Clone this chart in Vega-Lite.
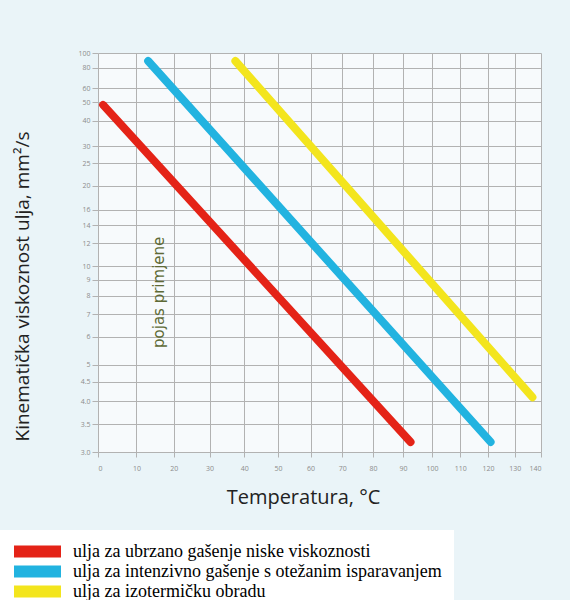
{
  "$schema": "https://vega.github.io/schema/vega-lite/v6.json",
  "width": 443,
  "height": 399,
  "autosize": {"type": "none"},
  "padding": {"left": 98, "top": 53, "right": 29, "bottom": 148},
  "background": "#eaf4f8",
  "config": {
    "view": {"fill": "#f7fafc", "stroke": null},
    "axis": {
      "gridColor": "#b2b2b2",
      "gridWidth": 1,
      "tickColor": "#b2b2b2",
      "domain": false,
      "labelOverlap": false,
      "tickCount": 60,
      "labelFont": "Open Sans",
      "labelFontSize": 7,
      "labelColor": "#8c8c8c",
      "titleFont": "Open Sans",
      "titleFontWeight": "normal",
      "titleColor": "#222222"
    }
  },
  "layer": [
    {
      "data": {
        "values": [
          {"oil": "ulja za ubrzano gašenje niske viskoznosti", "temp": 1.3, "visc": 48.5},
          {"oil": "ulja za ubrzano gašenje niske viskoznosti", "temp": 92.6, "visc": 3.17},
          {"oil": "ulja za intenzivno gašenje s otežanim isparavanjem", "temp": 13.1, "visc": 88.5},
          {"oil": "ulja za intenzivno gašenje s otežanim isparavanjem", "temp": 121, "visc": 3.17},
          {"oil": "ulja za izotermičku obradu", "temp": 37.4, "visc": 88.5},
          {"oil": "ulja za izotermičku obradu", "temp": 136.7, "visc": 4.1}
        ]
      },
      "mark": {"type": "line", "strokeWidth": 8, "strokeCap": "round"},
      "encoding": {
        "x": {
          "field": "temp",
          "type": "quantitative",
          "scale": {"type": "symlog", "constant": 273, "domain": [0, 140], "nice": false},
          "axis": {
            "values": [0, 10, 20, 30, 40, 50, 60, 70, 80, 90, 100, 110, 120, 130, 140],
            "title": "Temperatura, °C",
            "titleFontSize": 20,
            "tickSize": 5,
            "labelPadding": 7,
            "titleX": 205,
            "titleY": 45,
            "titleAlign": "center",
            "titleBaseline": "middle"
          }
        },
        "y": {
          "field": "visc",
          "type": "quantitative",
          "scale": {"type": "pow", "exponent": -0.3, "domain": [3, 100], "nice": false, "zero": false},
          "axis": {
            "values": [3, 3.5, 4, 4.5, 5, 6, 7, 8, 9, 10, 12, 14, 16, 20, 25, 30, 40, 50, 60, 80, 100],
            "labelExpr": "datum.value == 4 ? '4.0' : datum.value == 3 ? '3.0' : '' + datum.value",
            "title": "Kinematička viskoznost ulja, mm²/s",
            "titleFontSize": 19,
            "tickSize": 6,
            "labelPadding": 2,
            "titleAngle": 270,
            "titleX": -76,
            "titleY": 233,
            "titleAlign": "center",
            "titleBaseline": "middle"
          }
        },
        "color": {
          "field": "oil",
          "type": "nominal",
          "scale": {
            "domain": [
              "ulja za ubrzano gašenje niske viskoznosti",
              "ulja za intenzivno gašenje s otežanim isparavanjem",
              "ulja za izotermičku obradu"
            ],
            "range": ["#e42317", "#22b3e0", "#f3e51d"]
          },
          "legend": {
            "title": null,
            "orient": "none",
            "legendX": -102,
            "legendY": 477,
            "padding": 12,
            "fillColor": "#ffffff",
            "strokeColor": null,
            "symbolType": "stroke",
            "symbolSize": 2209,
            "symbolStrokeWidth": 12,
            "symbolOpacity": 1,
            "clipHeight": 19,
            "labelFont": "Liberation Serif",
            "labelFontSize": 18,
            "labelColor": "#000000",
            "labelOffset": 6,
            "labelLimit": 600,
            "rowPadding": 1
          }
        }
      }
    },
    {
      "data": {"values": [{"label": "pojas primjene"}]},
      "mark": {"type": "text", "angle": 270, "font": "DejaVu Sans", "fontSize": 15, "color": "#5e6a36", "align": "center", "baseline": "middle"},
      "encoding": {
        "x": {"datum": 16, "type": "quantitative"},
        "y": {"datum": 8.2, "type": "quantitative"},
        "text": {"field": "label"}
      }
    }
  ]
}
